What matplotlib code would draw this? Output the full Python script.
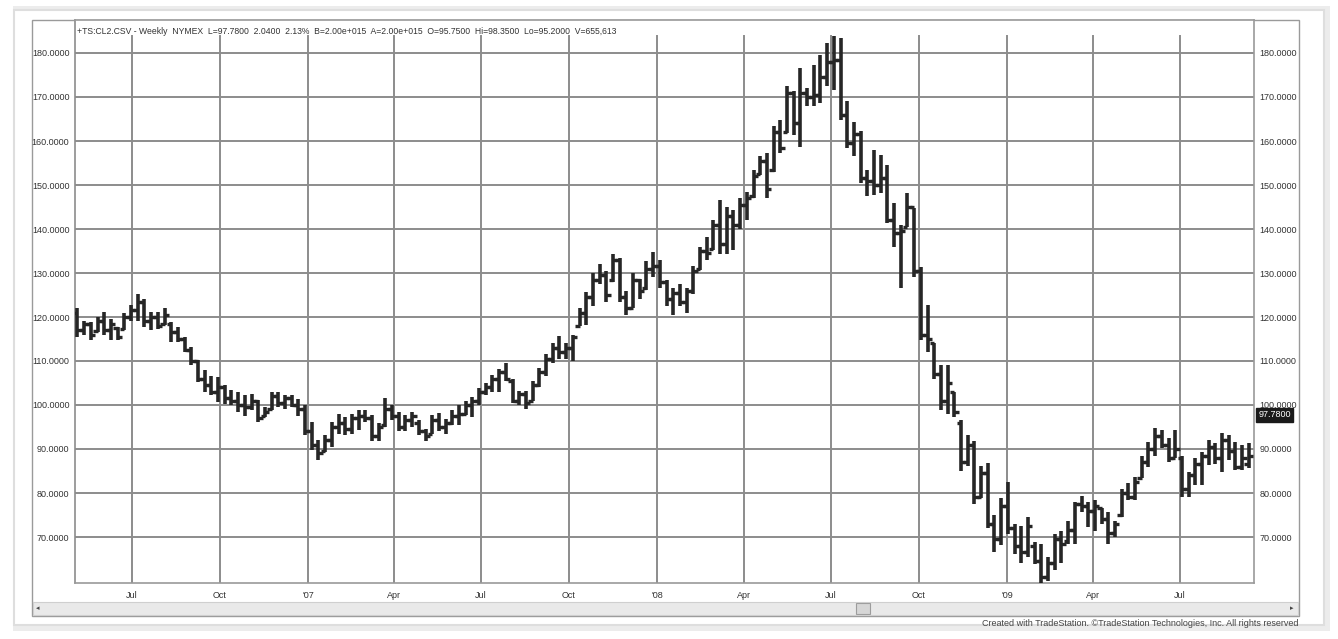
import matplotlib
matplotlib.use("Agg")
import matplotlib.pyplot as plt
import matplotlib.dates as mdates
from matplotlib.patches import Rectangle
import pandas as pd

# weekly bars, first week ending 2006-05-05
weeks = pd.date_range("2006-05-05", periods=176, freq="7D")

highs = [122.1, 119.2, 118.9, 120.0, 121.1, 119.6, 117.7, 120.8, 122.7, 125.3,
         124.2, 121.1, 121.1, 122.1, 118.9, 117.7, 115.5, 113.2, 110.2, 107.9,
         106.7, 106.4, 104.5, 103.3, 103.0, 102.2, 102.6, 101.1, 99.5, 103.0,
         103.0, 102.2, 102.2, 101.4, 99.9, 96.1, 92.0, 93.1, 96.1, 98.0,
         97.3, 98.0, 98.8, 98.8, 97.7, 95.8, 101.5, 100.0, 98.5, 97.7,
         98.5, 96.5, 94.6, 97.7, 98.1, 96.9, 98.8, 100.0, 100.8, 101.9,
         103.8, 105.0, 106.9, 108.1, 109.6, 105.8, 103.1, 103.1, 105.4, 108.5,
         111.5, 114.1, 115.6, 114.1, 116.0, 122.0, 125.7, 129.9, 132.1, 130.5,
         134.4, 133.5, 126.0, 130.0, 128.6, 132.7, 134.8, 133.0, 128.5, 126.6,
         127.4, 126.6, 131.5, 136.0, 138.2, 142.0, 146.6, 145.0, 144.3, 147.0,
         148.5, 153.4, 156.5, 157.2, 163.3, 164.8, 172.4, 171.3, 176.6, 172.0,
         177.3, 179.6, 182.3, 183.8, 183.4, 169.0, 164.4, 162.2, 153.4, 158.0,
         156.8, 154.6, 145.8, 140.9, 148.1, 144.7, 131.4, 122.8, 114.0, 109.1,
         109.1, 103.0, 96.5, 93.1, 91.9, 86.2, 86.9, 75.1, 78.9, 82.4,
         73.0, 72.6, 74.5, 68.8, 68.4, 65.4, 70.7, 71.4, 73.7, 77.9,
         79.4, 77.9, 78.3, 76.7, 75.6, 73.7, 80.9, 82.2, 83.7, 88.3,
         91.7, 94.7, 94.3, 92.4, 94.3, 88.3, 84.8, 87.9, 89.4, 92.0,
         91.3, 93.6, 93.2, 91.7, 90.9, 91.4]

lows = [115.5, 115.8, 114.7, 116.6, 115.8, 114.7, 114.7, 117.0, 119.2, 119.2,
        117.7, 117.0, 117.3, 118.1, 114.3, 114.3, 112.0, 109.0, 105.2, 103.0,
        102.2, 100.7, 100.3, 99.9, 98.4, 97.6, 98.8, 96.1, 97.3, 98.8,
        99.5, 99.2, 99.5, 97.6, 93.1, 89.7, 87.4, 89.3, 90.5, 93.5,
        93.1, 93.5, 94.4, 96.2, 91.9, 91.9, 95.0, 96.5, 94.2, 94.2,
        95.0, 93.1, 91.9, 93.5, 94.2, 93.5, 95.4, 95.4, 97.7, 97.3,
        100.0, 102.3, 103.0, 103.0, 105.4, 100.4, 100.0, 99.2, 100.8, 104.0,
        106.6, 109.6, 110.4, 110.4, 110.0, 117.9, 118.2, 122.4, 127.6, 123.5,
        128.0, 123.5, 120.5, 122.0, 124.0, 126.2, 129.0, 126.6, 122.5, 120.4,
        122.4, 121.0, 125.3, 130.6, 132.9, 135.2, 134.4, 134.4, 135.2, 140.0,
        142.0, 147.0, 152.3, 147.0, 153.0, 157.2, 161.8, 161.4, 158.7, 167.9,
        167.9, 168.6, 172.4, 171.6, 164.8, 158.4, 156.5, 150.4, 147.4, 147.7,
        148.1, 141.3, 136.0, 126.5, 140.5, 129.1, 114.8, 112.1, 106.0, 98.8,
        98.0, 97.3, 85.0, 86.2, 77.4, 78.9, 72.1, 66.7, 68.2, 70.7,
        66.1, 64.2, 65.4, 63.9, 59.3, 60.1, 62.4, 64.2, 68.4, 68.4,
        75.6, 72.2, 71.4, 73.0, 68.4, 69.9, 74.5, 78.4, 78.4, 83.3,
        86.0, 88.3, 90.2, 87.1, 87.9, 79.2, 79.2, 81.8, 81.8, 86.4,
        86.7, 84.8, 87.5, 85.2, 85.2, 85.7]

opens = [121.0, 117.0, 118.5, 116.8, 119.0, 117.0, 117.5, 117.2, 120.0, 121.5,
         123.5, 119.0, 120.0, 118.5, 118.5, 116.5, 115.0, 112.5, 110.0, 106.0,
         104.5, 103.0, 104.0, 101.5, 101.0, 100.0, 99.5, 101.0, 97.5, 99.0,
         102.0, 100.5, 101.5, 100.0, 99.0, 94.0, 91.0, 89.5, 92.0, 95.0,
         96.0, 94.5, 97.0, 97.5, 97.0, 93.0, 95.5, 99.0, 97.5, 95.0,
         96.5, 96.0, 94.0, 93.5, 96.5, 95.0, 96.0, 97.5, 98.0, 100.0,
         101.0, 103.0, 104.0, 106.0, 107.5, 105.5, 101.0, 102.5, 101.0, 104.5,
         107.5, 110.5, 113.0, 112.0, 113.0, 118.0, 121.0, 124.5, 128.5, 129.5,
         128.5, 133.0, 124.5, 122.0, 128.5, 126.5, 131.0, 131.5, 128.0, 124.0,
         125.5, 123.5, 126.0, 130.8, 135.0, 135.5, 141.0, 136.5, 143.0, 141.0,
         145.5, 147.5, 152.5, 155.5, 153.5, 162.0, 162.0, 171.0, 164.0, 171.0,
         170.0, 170.5, 174.5, 178.0, 178.5, 166.0, 159.5, 161.5, 151.5, 151.0,
         150.0, 151.5, 142.0, 139.0, 140.5, 145.0, 130.5, 116.0, 114.0, 107.0,
         101.0, 103.0, 96.0, 87.0, 91.0, 79.0, 84.5, 73.0, 69.5, 77.0,
         72.0, 68.0, 66.5, 68.0, 64.5, 61.0, 64.0, 69.5, 69.0, 71.5,
         77.5, 77.0, 76.0, 76.5, 74.0, 71.0, 75.0, 80.0, 79.0, 83.5,
         87.0, 90.0, 93.0, 91.0, 88.0, 88.0, 81.0, 84.0, 86.5, 88.5,
         90.5, 88.0, 92.0, 89.5, 86.0, 86.5]

closes = [117.0, 118.5, 116.0, 119.0, 117.0, 118.5, 115.5, 120.0, 121.5, 123.5,
          119.0, 120.0, 118.0, 120.5, 116.5, 115.0, 112.5, 110.0, 106.0, 104.5,
          103.0, 104.0, 101.5, 101.0, 100.0, 99.5, 101.0, 97.0, 98.5, 102.0,
          100.5, 101.5, 100.0, 99.0, 94.0, 91.0, 89.0, 92.0, 95.0, 96.0,
          94.5, 97.0, 97.5, 97.0, 93.0, 95.0, 99.0, 97.5, 95.0, 96.5,
          97.5, 94.0, 93.0, 96.5, 95.0, 96.0, 97.5, 98.0, 100.0, 101.0,
          103.0, 104.0, 106.0, 107.5, 106.0, 101.0, 102.5, 100.5, 104.5, 107.5,
          110.5, 113.0, 112.0, 113.0, 115.5, 121.0, 124.5, 128.5, 129.5, 125.0,
          133.0, 124.5, 122.0, 128.5, 126.0, 131.0, 131.5, 128.0, 124.0, 125.5,
          123.5, 126.0, 130.5, 135.0, 134.5, 141.0, 136.5, 143.0, 141.0, 145.5,
          147.0, 152.0, 155.5, 149.0, 162.0, 158.5, 171.0, 164.0, 171.0, 170.0,
          170.5, 174.5, 178.0, 178.5, 166.0, 159.5, 161.5, 151.5, 151.0, 150.0,
          151.5, 142.0, 139.0, 139.5, 145.0, 130.5, 116.0, 115.0, 107.0, 101.0,
          105.0, 98.5, 87.0, 91.0, 79.0, 84.5, 73.0, 69.5, 77.0, 72.0,
          68.0, 66.5, 72.5, 64.5, 61.0, 64.0, 69.5, 68.5, 71.5, 77.5,
          77.0, 76.0, 77.0, 74.0, 71.0, 73.0, 80.0, 79.0, 82.5, 87.0,
          90.0, 93.0, 91.0, 88.0, 90.0, 81.0, 84.0, 86.5, 88.5, 90.5,
          88.0, 92.0, 89.5, 86.0, 88.0, 88.5]

price_ticks = [70, 80, 90, 100, 110, 120, 130, 140, 150, 160, 170, 180]
quarter_dates = ["2006-07-01", "2006-10-01", "2007-01-01", "2007-04-01", "2007-07-01",
                 "2007-10-01", "2008-01-01", "2008-04-01", "2008-07-01", "2008-10-01",
                 "2009-01-01", "2009-04-01", "2009-07-01"]
quarter_labels = ["Jul", "Oct", "'07", "Apr", "Jul", "Oct", "'08", "Apr", "Jul", "Oct",
                  "'09", "Apr", "Jul"]
last_price = 97.78
header = ("+TS:CL2.CSV - Weekly  NYMEX  L=97.7800  2.0400  2.13%  B=2.00e+015  A=2.00e+015  "
          "O=95.7500  Hi=98.3500  Lo=95.2000  V=655,613")

plt.rcParams['font.family'] = ['Liberation Sans', 'DejaVu Sans']

W, H = 1338, 639
fig = plt.figure(figsize=(W / 100, H / 100), dpi=100, facecolor="white")


def fx(px):
    return px / W


def fy(py):
    return 1 - py / H


# card shadow and chart frame (behind everything)
fig.patches.append(Rectangle((fx(16), fy(627)), fx(1310), (627 - 9) / H,
                             transform=fig.transFigure, facecolor="none",
                             edgecolor="#ececec", lw=5, zorder=-6))
fig.patches.append(Rectangle((fx(14), fy(625)), fx(1310), (625 - 10) / H,
                             transform=fig.transFigure, facecolor="white",
                             edgecolor="#dedede", lw=1.5, zorder=-5))
fig.patches.append(Rectangle((fx(32), fy(616)), fx(1299 - 32), (616 - 20) / H,
                             transform=fig.transFigure, facecolor="none",
                             edgecolor="#9a9a9a", lw=1.0, zorder=-4))

# main price panel
ax = fig.add_axes([fx(75), fy(583), fx(1254 - 75), (583 - 20) / H])
ax.set_facecolor("white")
ppu = 4.4
ax.set_ylim(180 - (583 - 53) / ppu, 180 + (53 - 20) / ppu)
d0 = mdates.date2num(pd.Timestamp("2006-07-01"))
d1 = mdates.date2num(pd.Timestamp("2009-07-01"))
pxd = (1180 - 132) / (d1 - d0)
ax.set_xlim(d0 - (132 - 75) / pxd, d1 + (1254 - 1180) / pxd)

grid_col = "#8c8c8c"
for p in price_ticks:
    ax.axhline(p, color=grid_col, lw=1.4, zorder=1)
qnums = [mdates.date2num(pd.Timestamp(d)) for d in quarter_dates]
top_frac = (583 - 36) / (583 - 20)
for q in qnums:
    ax.axvline(q, ymin=0, ymax=top_frac, color=grid_col, lw=1.4, zorder=1)

x = mdates.date2num(weeks)
tick = 4.4 / pxd
bar_col = "#262626"
ax.vlines(x, lows, highs, color=bar_col, lw=2.6, zorder=3)
ax.hlines(opens, x - tick, x, color=bar_col, lw=2.4, zorder=3)
ax.hlines(closes, x, x + tick, color=bar_col, lw=2.4, zorder=3)

ax.set_yticks(price_ticks)
ax.set_yticklabels(["%.4f" % p for p in price_ticks])
ax.tick_params(axis="y", which="both", length=0, labelsize=6.5, colors="#333333",
               labelleft=True, labelright=True, pad=4)
ax.set_xticks(qnums)
ax.set_xticklabels(quarter_labels)
ax.tick_params(axis="x", length=0, labelsize=6.5, colors="#333333", pad=6)
for s in ["top", "left", "right", "bottom"]:
    ax.spines[s].set_color("#9a9a9a")
    ax.spines[s].set_linewidth(1.2)
ax.spines["left"].set_color(grid_col)

ax.text(0.002, 1 - (31 - 20) / (583 - 20), header, transform=ax.transAxes,
        fontsize=6.2, color="#333333", va="center", ha="left")

# last price marker on the right scale
ax.text(1.004, last_price, "97.7800", transform=ax.get_yaxis_transform(),
        fontsize=6.5, color="white", va="center", ha="left", clip_on=False,
        bbox=dict(boxstyle="square,pad=0.25", facecolor="#1a1a1a", edgecolor="#1a1a1a"))

# scrollbar
sb = fig.add_axes([fx(33), fy(615), fx(1298 - 33), (615 - 602) / H])
sb.set_xlim(33, 1298)
sb.set_ylim(0, 1)
sb.set_facecolor("#e9e9e9")
for s in sb.spines.values():
    s.set_color("#cfcfcf")
sb.set_xticks([])
sb.set_yticks([])
sb.add_patch(Rectangle((856, 0.1), 14, 0.8, facecolor="#d6d6d6", edgecolor="#9c9c9c", lw=0.8))
sb.text(38, 0.5, "\u25c2", fontsize=5, va="center", ha="center", color="#444444")
sb.text(1292, 0.5, "\u25b8", fontsize=5, va="center", ha="center", color="#444444")

fig.text(fx(1298), fy(624), "Created with TradeStation. \u00a9TradeStation Technologies, Inc. All rights reserved",
         fontsize=6.5, color="#444444", ha="right", va="center")

fig.savefig("out.png", dpi=100, facecolor="white")
